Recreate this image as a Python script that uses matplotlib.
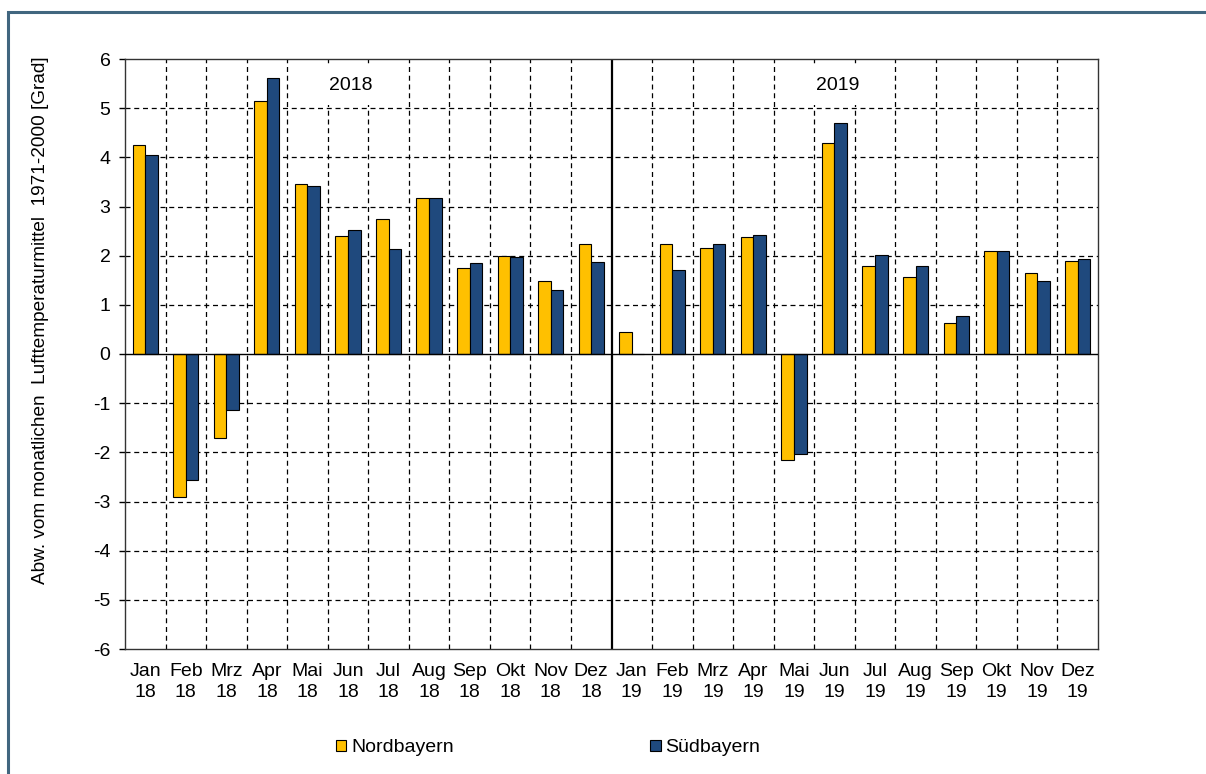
import matplotlib
matplotlib.use("Agg")
import matplotlib.pyplot as plt
import numpy as np
from matplotlib.patches import Rectangle, Patch

plt.rcParams['font.family'] = ['Liberation Sans', 'DejaVu Sans']

months = ["Jan", "Feb", "Mrz", "Apr", "Mai", "Jun", "Jul", "Aug", "Sep", "Okt", "Nov", "Dez"]
years = ["18", "19"]
labels = [f"{m}\n{y}" for y in years for m in months]

nord = [4.25, -2.90, -1.70, 5.15, 3.45, 2.40, 2.75, 3.17, 1.75, 2.00, 1.49, 2.23,
        0.45, 2.23, 2.15, 2.38, -2.15, 4.30, 1.80, 1.57, 0.63, 2.10, 1.65, 1.90]
sued = [4.05, -2.57, -1.13, 5.62, 3.42, 2.53, 2.13, 3.17, 1.85, 1.97, 1.30, 1.87,
        0.00, 1.70, 2.23, 2.43, -2.03, 4.70, 2.02, 1.80, 0.78, 2.10, 1.48, 1.93]
year_labels = ["2018", "2019"]

W, H = 1206, 774
fig = plt.figure(figsize=(W/100, H/100), dpi=100)
ax = fig.add_axes([125/W, 1-649/H, (1098-125)/W, (649-59)/H])

yellow = "#FFC000"
blue = "#1F497D"
FS = 14
x = np.arange(len(labels))
bw = 0.31
ax.bar(x - bw/2, nord, bw, color=yellow, edgecolor="black", linewidth=0.8, zorder=3)
ax.bar(x + bw/2, sued, bw, color=blue, edgecolor="black", linewidth=0.8, zorder=3)

ax.set_xlim(-0.5, len(labels) - 0.5)
ax.set_ylim(-6, 6)
ax.set_yticks(np.arange(-6, 7, 1))
ax.set_yticklabels([str(v) for v in range(-6, 7)], fontsize=FS)
ax.set_xticks(x)
ax.set_xticklabels(labels, fontsize=FS, linespacing=1.35)
ax.tick_params(axis='x', length=0, pad=10)
ax.tick_params(axis='y', length=4.5, direction='out', pad=6, width=1.0)

# grid
for b in np.arange(0.5, len(labels) - 1, 1):
    if abs(b - 11.5) < 1e-9:
        ax.axvline(b, color="black", lw=1.6, zorder=2)
    else:
        ax.axvline(b, color="black", lw=0.9, ls=(0, (4, 3)), zorder=1)
for v in range(-5, 6):
    if v == 0:
        ax.axhline(0, color="black", lw=1.0, zorder=4)
    else:
        ax.axhline(v, color="black", lw=0.9, ls=(0, (4, 3)), zorder=1)

for s in ax.spines.values():
    s.set_color("#333333")
    s.set_linewidth(1.0)

box = dict(boxstyle="square,pad=0.55", facecolor="white", edgecolor="none")
ax.text(5.08, 5.46, year_labels[0], fontsize=FS, ha="center", va="center", bbox=box, zorder=5)
ax.text(17.07, 5.46, year_labels[1], fontsize=FS, ha="center", va="center", bbox=box, zorder=5)

fig.text(41/W, 1-320/H, "Abw. vom monatlichen  Lufttemperaturmittel  1971-2000 [Grad]",
         rotation=90, ha="center", va="center", fontsize=13.7)

handles = [Patch(facecolor=yellow, edgecolor="black", linewidth=0.8),
           Patch(facecolor=blue, edgecolor="black", linewidth=0.8)]
fig.legend(handles, ["Nordbayern", "Südbayern"], loc="center", ncol=2,
           bbox_to_anchor=(548/W, 1-748/H), frameon=False, fontsize=FS,
           handlelength=0.55, handleheight=0.55, handletextpad=0.25, columnspacing=10.1)

# figure border
fig.add_artist(Rectangle((8/W, -0.1), 1.2, (1-12/H) + 0.1, transform=fig.transFigure,
                         fill=False, edgecolor="#41667F", linewidth=2.2))

fig.savefig("out.png", dpi=100)
